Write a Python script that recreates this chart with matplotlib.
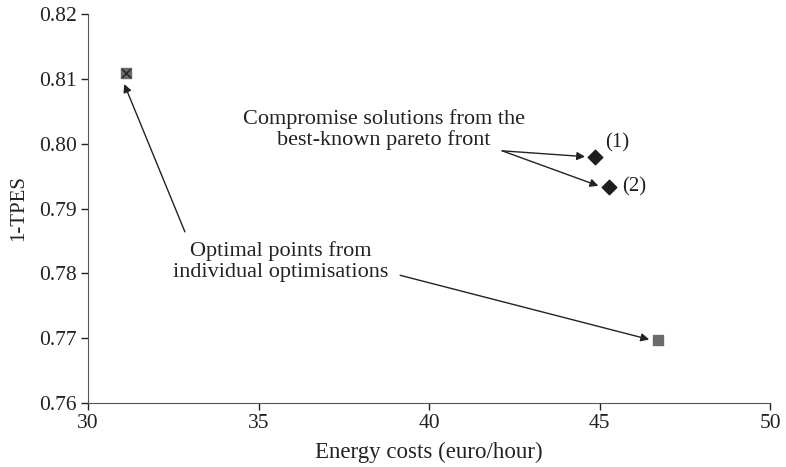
import matplotlib
matplotlib.use("Agg")
import matplotlib.pyplot as plt

plt.rcParams['font.family'] = ['Liberation Serif', 'DejaVu Serif']

# Data
optimal_x = [31.1, 46.7]
optimal_y = [0.8109, 0.7697]
compromise_x = [44.85, 45.27]
compromise_y = [0.798, 0.7933]
compromise_labels = ["(1)", "(2)"]
label_dx = [0.3, 0.4]
label_dy = [0.0021, 0.0001]
xticks = [30, 35, 40, 45, 50]
yticks = [0.76, 0.77, 0.78, 0.79, 0.80, 0.81, 0.82]

fig = plt.figure(figsize=(7.86, 4.67), dpi=100)
ax = fig.add_axes([0.112, 0.137, 0.868, 0.833])

ax.scatter(optimal_x, optimal_y, marker='s', s=50, color='#6b6b6b', zorder=3)
ax.scatter(optimal_x[:1], optimal_y[:1], marker='x', s=40, color='#2a2a2a', linewidths=1.2, zorder=4)
ax.scatter(compromise_x, compromise_y, marker='D', s=55, color='#1e1e1e', zorder=3)

for x, y, lab, dx, dy in zip(compromise_x, compromise_y, compromise_labels, label_dx, label_dy):
    ax.text(x + dx, y + dy, lab, fontsize=15, ha='left', va='center', color='#222222')

ax.set_xlim(30, 50)
ax.set_ylim(0.76, 0.82)
ax.set_xticks(xticks)
ax.set_yticks(yticks)
ax.set_yticklabels([f"{v:.2f}" for v in yticks])
ax.tick_params(labelsize=15.5, colors='#222222', direction='out', length=5, width=1, pad=3)
for s in ['top', 'right']:
    ax.spines[s].set_visible(False)
for s in ['left', 'bottom']:
    ax.spines[s].set_color('#555555')
ax.set_xlabel("Energy costs (euro/hour)", fontsize=16.5, color='#222222', labelpad=6)
ax.set_ylabel("1-TPES", fontsize=15, color='#222222', labelpad=8)

ax.text(38.68, 0.8022, "Compromise solutions from the\nbest-known pareto front",
        ha='center', va='center', fontsize=16, color='#222222', linespacing=1.1)
ax.text(35.65, 0.7818, "Optimal points from\nindividual optimisations",
        ha='center', va='center', fontsize=16, color='#222222', linespacing=1.1)

ap = dict(arrowstyle='-|>', color='#222222', lw=1.0, mutation_scale=12, shrinkA=0, shrinkB=0)
ax.annotate("", xy=(44.57, 0.798), xytext=(42.14, 0.7989), arrowprops=ap)
ax.annotate("", xy=(44.96, 0.7935), xytext=(42.14, 0.7989), arrowprops=ap)
ax.annotate("", xy=(31.06, 0.8092), xytext=(32.84, 0.7864), arrowprops=ap)
ax.annotate("", xy=(46.45, 0.7698), xytext=(39.15, 0.7797), arrowprops=ap)

fig.savefig("out.png", dpi=100)
